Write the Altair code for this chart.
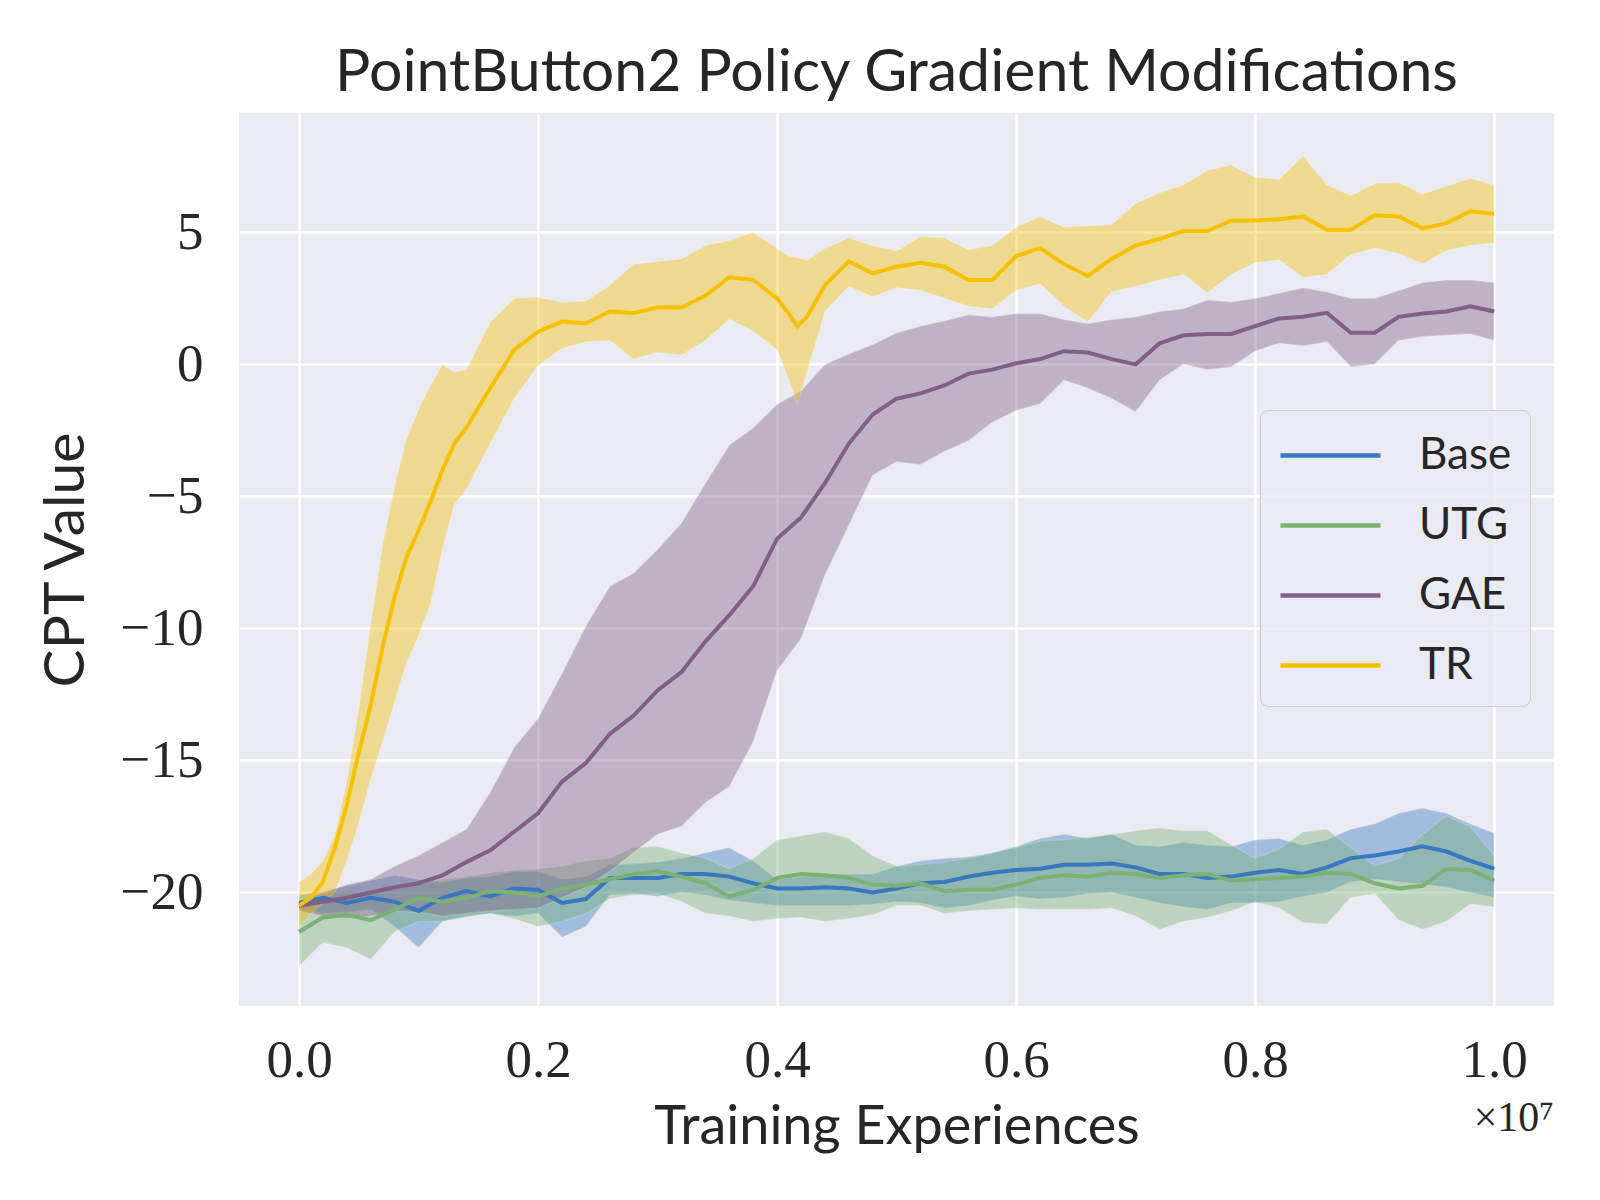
import altair as alt
import pandas as pd

SANS = "Lato"
SERIF = "Liberation Serif"
TEXT = "#262626"
BG = "#EAEAF2"

series_names = ["Base", "UTG", "GAE", "TR"]
series_colors = ["#3778bf", "#7bb274", "#825f87", "#f5c000"]

x_ticks = [0.0, 0.2, 0.4, 0.6, 0.8, 1.0]
y_ticks = [-20, -15, -10, -5, 0, 5]

# x positions in units of 1e7 training experiences
x_std = [0.00, 0.02, 0.04, 0.06, 0.08, 0.10, 0.12, 0.14, 0.16, 0.18,
         0.20, 0.22, 0.24, 0.26, 0.28, 0.30, 0.32, 0.34, 0.36, 0.38,
         0.40, 0.42, 0.44, 0.46, 0.48, 0.50, 0.52, 0.54, 0.56, 0.58,
         0.60, 0.62, 0.64, 0.66, 0.68, 0.70, 0.72, 0.74, 0.76, 0.78,
         0.80, 0.82, 0.84, 0.86, 0.88, 0.90, 0.92, 0.94, 0.96, 0.98,
         1.00]

x_tr = [0.00, 0.01, 0.02, 0.03, 0.04, 0.05, 0.06, 0.07, 0.08, 0.09,
        0.10, 0.11, 0.12, 0.13, 0.14,
        0.16, 0.18, 0.20, 0.22, 0.24, 0.26, 0.28, 0.30, 0.32, 0.34,
        0.36, 0.38, 0.40,
        0.41, 0.417, 0.425,
        0.44, 0.46, 0.48, 0.50, 0.52, 0.54, 0.56, 0.58, 0.60, 0.62,
        0.64, 0.66, 0.68, 0.70, 0.72, 0.74, 0.76, 0.78, 0.80, 0.82,
        0.84, 0.86, 0.88, 0.90, 0.92, 0.94, 0.96, 0.98, 1.00]

base_mean = [-20.4, -20.2, -20.4, -20.2, -20.35, -20.7, -20.2, -19.95, -20.15, -19.85,
             -19.9, -20.4, -20.25, -19.45, -19.45, -19.45, -19.3, -19.3, -19.4, -19.65,
             -19.85, -19.85, -19.8, -19.85, -20.0, -19.85, -19.65, -19.6, -19.4, -19.25,
             -19.15, -19.1, -18.95, -18.95, -18.9, -19.05, -19.3, -19.3, -19.45, -19.4,
             -19.25, -19.15, -19.3, -19.05, -18.7, -18.6, -18.45, -18.25, -18.45, -18.8,
             -19.1]
base_hi = [-20.1, -19.95, -19.75, -19.55, -19.35, -19.5, -19.6, -19.45, -19.4, -19.2,
           -19.2, -19.5, -19.4, -18.95, -18.9, -18.85, -18.7, -18.5, -18.3, -18.8,
           -19.5, -19.4, -19.3, -19.3, -19.3, -19.0, -18.8, -18.7, -18.65, -18.5,
           -18.25, -17.95, -17.8, -17.95, -17.8, -18.2, -18.25, -18.1, -18.2, -18.25,
           -18.0, -17.95, -18.2, -18.0, -17.6, -17.4, -17.0, -16.8, -17.0, -17.4,
           -17.75]
base_lo = [-20.65, -20.8, -20.75, -20.65, -21.3, -22.1, -21.1, -20.9, -20.8, -20.9,
           -20.8, -21.7, -21.3, -20.1, -20.05, -20.15, -20.0, -20.1, -20.3, -20.4,
           -20.5, -20.5, -20.5, -20.5, -20.45, -20.35, -20.4, -20.6, -20.5, -20.3,
           -20.15, -20.25, -20.2, -20.05, -20.0, -20.2, -20.4, -20.55, -20.65, -20.4,
           -20.4, -20.35, -20.15, -20.0, -19.6, -19.5, -19.6, -19.7, -19.8, -20.0,
           -20.2]

utg_mean = [-21.5, -20.95, -20.85, -21.05, -20.65, -20.2, -20.35, -20.2, -19.95, -20.0,
            -20.15, -19.85, -19.7, -19.5, -19.3, -19.2, -19.4, -19.65, -20.15, -19.9,
            -19.45, -19.3, -19.35, -19.45, -19.7, -19.75, -19.65, -19.95, -19.9, -19.9,
            -19.7, -19.45, -19.35, -19.4, -19.25, -19.3, -19.45, -19.35, -19.3, -19.55,
            -19.5, -19.45, -19.4, -19.25, -19.3, -19.65, -19.85, -19.75, -19.1, -19.15,
            -19.55]
utg_hi = [-20.3, -20.0, -19.9, -20.0, -19.85, -19.7, -19.5, -19.4, -19.25, -19.15,
          -19.1, -19.0, -18.8, -18.7, -18.3, -18.25, -18.5, -18.7, -19.1, -18.7,
          -18.0, -17.85, -17.7, -17.95, -18.6, -19.0, -18.95, -18.85, -18.7, -18.5,
          -18.3, -18.05, -18.0, -17.9, -17.8, -17.65, -17.55, -17.65, -17.65, -18.2,
          -18.7, -18.35, -17.7, -17.6, -18.3, -19.0, -18.7, -17.8, -17.1, -17.5,
          -18.6]
utg_lo = [-22.8, -21.9, -22.1, -22.55, -21.5, -21.1, -21.1, -20.95, -20.8, -21.0,
          -21.3, -21.1, -20.8, -20.25, -20.1, -20.05, -20.35, -20.8, -20.9, -21.1,
          -21.0, -20.95, -21.1, -21.0, -20.85, -20.5, -20.5, -20.8, -20.7, -20.65,
          -20.6, -20.65, -20.65, -20.65, -20.6, -20.9, -21.4, -21.1, -20.95, -20.7,
          -20.35, -20.6, -21.15, -21.2, -20.2, -20.05, -21.05, -21.4, -21.1, -20.45,
          -20.55]

gae_mean = [-20.5, -20.35, -20.2, -20.0, -19.8, -19.65, -19.35, -18.85, -18.4, -17.7,
            -17.0, -15.8, -15.1, -14.0, -13.3, -12.35, -11.65, -10.5, -9.5, -8.4,
            -6.6, -5.8, -4.5, -3.0, -1.9, -1.3, -1.1, -0.8, -0.35, -0.2,
            0.04, 0.2, 0.5, 0.45, 0.2, 0.0, 0.8, 1.1, 1.15, 1.15,
            1.45, 1.74, 1.8, 1.95, 1.2, 1.2, 1.8, 1.93, 2.0, 2.2,
            2.0]
gae_hi = [-20.3, -20.0, -19.7, -19.5, -19.0, -18.6, -18.1, -17.6, -16.2, -14.5,
          -13.4, -11.7, -9.9, -8.4, -7.9, -7.0, -6.0, -4.5, -3.05, -2.4,
          -1.5, -1.0, 0.0, 0.4, 0.75, 1.2, 1.45, 1.65, 1.88, 1.8,
          1.93, 1.93, 1.7, 1.55, 1.7, 1.8, 2.0, 2.12, 2.44, 2.37,
          2.5, 2.7, 2.9, 2.75, 2.5, 2.5, 2.8, 3.1, 3.2, 3.2,
          3.1]
gae_lo = [-20.7, -20.9, -21.0, -20.9, -20.7, -20.75, -20.9, -20.8, -20.7, -20.65,
          -20.6, -20.2, -19.8, -19.2, -18.5, -17.8, -17.5, -16.6, -16.0, -14.3,
          -11.6, -10.4, -8.0, -6.1, -4.2, -3.7, -3.8, -3.3, -2.9, -2.2,
          -1.75, -1.5, -0.6, -0.9, -1.3, -1.8, -0.6, 0.0, -0.2, -0.1,
          0.5, 0.8, 0.7, 0.85, -0.1, 0.0, 0.9, 1.05, 1.1, 1.15,
          0.9]

tr_mean = [-20.5, -20.2, -19.6, -18.3, -16.7, -14.7, -12.9, -10.7, -8.8, -7.3,
           -6.3, -5.2, -4.0, -3.0, -2.4,
           -0.9, 0.55, 1.24, 1.62, 1.55, 2.0, 1.95, 2.15, 2.15, 2.6,
           3.3, 3.2, 2.5,
           1.9, 1.45, 1.8,
           3.0, 3.9, 3.45, 3.7, 3.85, 3.7, 3.2, 3.2, 4.1, 4.4,
           3.8, 3.35, 4.0, 4.5, 4.75, 5.05, 5.05, 5.45, 5.45, 5.5,
           5.6, 5.1, 5.1, 5.65, 5.6, 5.15, 5.35, 5.8, 5.7]
tr_hi = [-19.6, -19.3, -18.8, -17.8, -15.8, -13.0, -9.8, -6.8, -4.6, -2.8,
         -1.7, -0.8, 0.0, -0.3, -0.2,
         1.6, 2.5, 2.55, 2.35, 2.4, 3.0, 3.8, 3.9, 4.0, 4.5,
         4.7, 5.0, 4.4,
         4.1, 4.05, 3.95,
         4.4, 4.8, 4.5, 4.3, 4.85, 4.8, 4.35, 4.5, 5.2, 5.6,
         5.2, 5.25, 5.3, 6.1, 6.5, 6.8, 7.35, 7.55, 7.1, 7.0,
         7.9, 6.8, 6.4, 6.85, 6.9, 6.45, 6.75, 7.05, 6.8]
tr_lo = [-21.3, -20.8, -20.4, -20.0, -18.8, -17.4, -15.7, -14.3, -12.8, -11.3,
         -10.3, -9.1, -7.0, -5.3, -4.75,
         -3.0, -1.3, -0.05, 0.6, 0.85, 0.9, 0.2, 0.45, 0.35, 0.9,
         1.7, 1.25, 0.55,
         -0.6, -1.5, -0.3,
         2.0, 2.95, 2.55, 2.9, 2.8, 2.5, 2.2, 2.1, 2.8, 3.05,
         2.2, 1.6, 2.75, 2.95, 3.2, 3.4, 2.7, 3.4, 3.85, 3.95,
         3.3, 3.4, 4.15, 4.4, 4.2, 3.8, 4.3, 4.5, 4.6]

rows = []
for name, xs, m, lo, hi in [
    ("Base", x_std, base_mean, base_lo, base_hi),
    ("UTG", x_std, utg_mean, utg_lo, utg_hi),
    ("GAE", x_std, gae_mean, gae_lo, gae_hi),
    ("TR", x_tr, tr_mean, tr_lo, tr_hi),
]:
    for a, b, c, d in zip(xs, m, lo, hi):
        rows.append({"series": name, "x": a, "mean": b, "lo": c, "hi": d})
df = pd.DataFrame(rows)

W, H = 1315, 893

xscale = alt.Scale(domain=[-0.0502, 1.05], nice=False, zero=False)
yscale = alt.Scale(domain=[-24.3, 9.52], nice=False, zero=False)
color_scale = alt.Scale(domain=series_names, range=series_colors)

xaxis = alt.Axis(values=x_ticks, format=".1f", title="Training Experiences",
                 grid=True, gridColor="white", gridWidth=2.5, domain=False, ticks=False,
                 labelFont=SERIF, labelFontSize=53, labelColor=TEXT, labelPadding=28,
                 titleFont=SANS, titleFontSize=54, titleColor=TEXT, titleFontWeight="normal",
                 titleBaseline="alphabetic", titleY=137)
yaxis = alt.Axis(values=y_ticks, format="d", title="CPT Value",
                 labelExpr="replace(datum.label, '-', '\u2212')",
                 grid=True, gridColor="white", gridWidth=2.5, domain=False, ticks=False,
                 labelFont=SERIF, labelFontSize=53, labelColor=TEXT, labelPadding=36,
                 titleFont=SANS, titleFontSize=57, titleColor=TEXT, titleFontWeight="normal",
                 titleAngle=270, titleBaseline="middle", titleAlign="center",
                 titleX=-173, titleY=H / 2)

legend = alt.Legend(title=None, orient="none", legendX=1021, legendY=297,
                    symbolType="M-1,0H3", symbolSize=2500, symbolStrokeWidth=4.5,
                    symbolOpacity=1,
                    labelFont=SANS, labelFontSize=44, labelColor=TEXT, labelOffset=86,
                    rowPadding=20, padding=18,
                    fillColor="rgba(234,234,242,0.8)", strokeColor="#cccccc",
                    cornerRadius=8)

base = alt.Chart(df)

bands = base.mark_area(opacity=0.4, stroke="white", strokeWidth=1.5,
                       strokeOpacity=0.35).encode(
    x=alt.X("x:Q", scale=xscale, axis=xaxis),
    y=alt.Y("lo:Q", scale=yscale, axis=yaxis),
    y2="hi:Q",
    color=alt.Color("series:N", scale=color_scale, legend=legend),
)

lines = base.mark_line(strokeWidth=4).encode(
    x=alt.X("x:Q", scale=xscale),
    y=alt.Y("mean:Q", scale=yscale),
    color=alt.Color("series:N", scale=color_scale, legend=legend),
)

offset_df = pd.DataFrame({"t": ["\u00d710\u2077"]})
offset_text = alt.Chart(offset_df).mark_text(
    font=SERIF, fontSize=42, align="right", baseline="alphabetic", color=TEXT
).encode(text="t:N", x=alt.value(W), y=alt.value(1018))

chart = alt.layer(bands, lines, offset_text).properties(
    width=W, height=H,
    title=alt.TitleParams("PointButton2 Policy Gradient Modifications", font=SANS,
                          fontSize=59, fontWeight="normal", color=TEXT,
                          anchor="middle", baseline="alphabetic", offset=-37),
    autosize=alt.AutoSizeParams(type="none"),
    padding={"left": 231, "top": 105, "right": 38, "bottom": 186},
).configure(
    background="white",
    view=alt.ViewConfig(fill=BG, stroke=None),
)

chart.save("out.html", embed_options={"renderer": "svg", "actions": False})
